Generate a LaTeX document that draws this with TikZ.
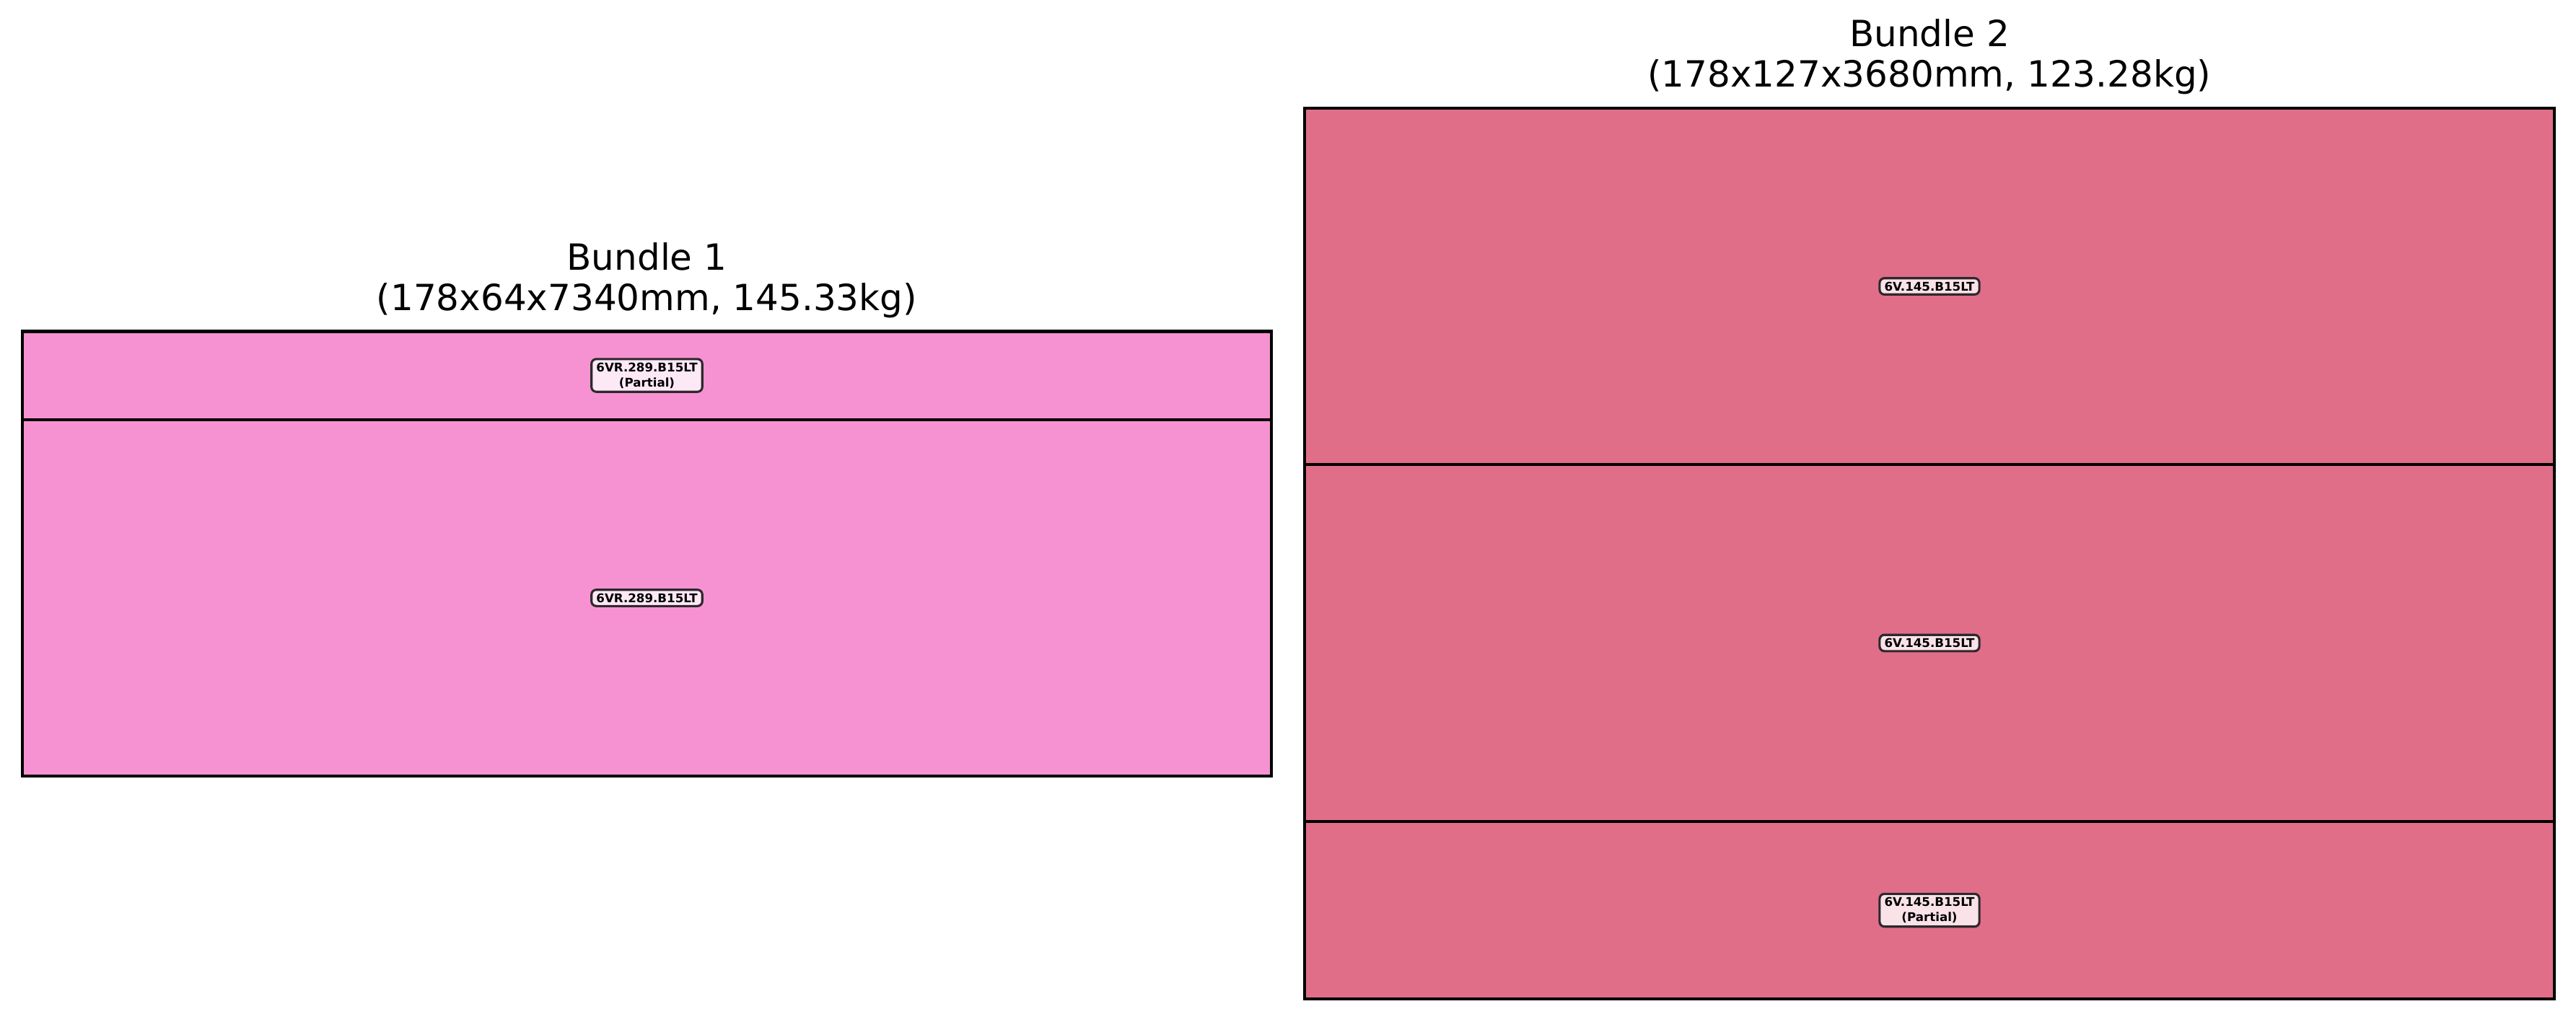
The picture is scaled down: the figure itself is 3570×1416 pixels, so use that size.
\documentclass[tikz,border=0pt]{standalone}
\usepackage{fontspec}
\setmainfont{DejaVu Sans}
\definecolor{pinkA}{RGB}{247,146,210}
\definecolor{roseB}{RGB}{224,110,136}
\definecolor{lblA}{RGB}{253,233,246}
\definecolor{lblB}{RGB}{249,226,232}
\definecolor{lbledge}{RGB}{45,40,45}
\tikzset{
  seg/.style={draw=black, line width=1pt},
  lbl/.style={draw=lbledge, line width=0.75pt, rounded corners=1.6pt, inner xsep=1.6pt, inner ysep=1.2pt,
    font=\fontsize{4}{5}\selectfont\bfseries, align=center},
  ttl/.style={font=\fontsize{12}{13.4}\selectfont, align=center, inner sep=0pt}
}
\begin{document}
\begin{tikzpicture}[x=0.24pt,y=-0.24pt]
\useasboundingbox (0,0) rectangle (3570,1416);
% Bundle 1
\fill[pinkA] (31,459.5) rectangle (1762,1076);
\draw[seg] (31,459.5) rectangle (1762,582);
\draw[seg] (31,582) rectangle (1762,1076);
\node[lbl, fill=lblA] (l1a) at (896.5,520.5) {6VR.289.B15LT\\(Partial)};
\node[lbl, fill=lblA] (l1b) at (896.5,829) {6VR.289.B15LT};
\node[ttl] (t1) at (896.5,389) {Bundle 1\\(178x64x7340mm, 145.33kg)};
% Bundle 2
\fill[roseB] (1808,150) rectangle (3540,1385);
\draw[seg] (1808,150) rectangle (3540,644);
\draw[seg] (1808,644) rectangle (3540,1139);
\draw[seg] (1808,1139) rectangle (3540,1385);
\node[lbl, fill=lblB] (l2a) at (2674,397) {6V.145.B15LT};
\node[lbl, fill=lblB] (l2b) at (2674,891.5) {6V.145.B15LT};
\node[lbl, fill=lblB] (l2c) at (2674,1262) {6V.145.B15LT\\(Partial)};
\node[ttl] (t2) at (2674,79) {Bundle 2\\(178x127x3680mm, 123.28kg)};
\end{tikzpicture}
\end{document}
